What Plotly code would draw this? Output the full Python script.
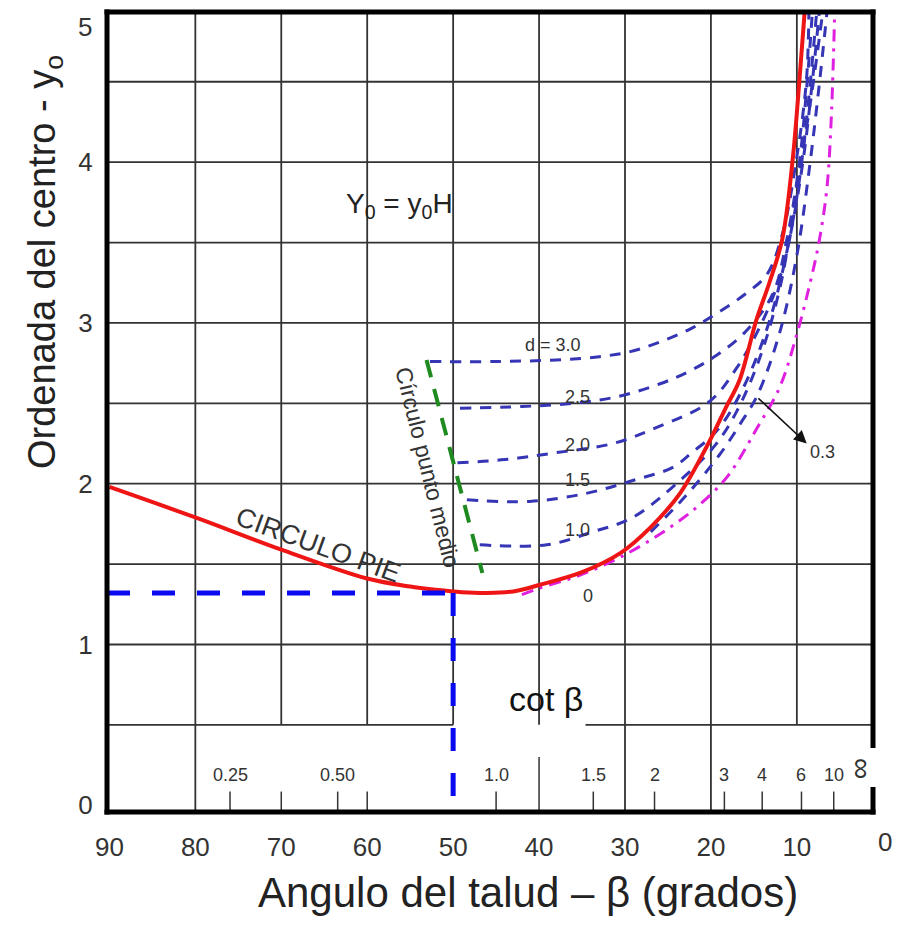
import math
import plotly.graph_objects as go

# ---------------- data ----------------
# Toe circle ("CIRCULO PIE")
beta_pie = [90, 80, 70, 60, 55, 52, 49, 46, 43, 40, 35, 30.5, 27, 23.6, 20.5, 18.2, 16.7, 14.7, 13.2, 11.7, 10.5, 9.7, 9.1]
y_pie = [1.98, 1.79, 1.59, 1.41, 1.36, 1.34, 1.325, 1.32, 1.33, 1.37, 1.45, 1.57, 1.73, 1.94, 2.23, 2.48, 2.64, 3.02, 3.25, 3.52, 4.01, 4.51, 4.93]

# d = 0 (dash-dot magenta)
beta_d0 = [42, 40, 35.3, 30.3, 25, 21.3, 18, 14.7, 12.0, 10.0, 8.5, 7.4, 6.5, 6.0, 5.6]
y_d0 = [1.31, 1.35, 1.43, 1.55, 1.72, 1.87, 2.05, 2.34, 2.60, 2.93, 3.24, 3.51, 3.84, 4.27, 4.93]

# d curves (blue dashed)
beta_d03 = [27, 23, 19, 16.5, 14.6, 12.0, 10.0, 8.5, 7.4, 6.5]
y_d03 = [1.70, 1.92, 2.18, 2.38, 2.55, 2.94, 3.42, 3.98, 4.48, 4.93]

beta_d10 = [46.9, 39.1, 33.8, 29.1, 23.6, 19.5, 17.0, 14.2, 11.8, 10.0, 8.4, 7.0]
y_d10 = [1.62, 1.62, 1.70, 1.79, 2.02, 2.24, 2.45, 2.80, 3.26, 3.85, 4.38, 4.93]

beta_d15 = [48.4, 41.1, 34.5, 29.1, 24.5, 22.3, 19.3, 16.3, 13.2, 10.9, 9.3, 8.2, 7.4]
y_d15 = [1.90, 1.89, 1.94, 2.02, 2.10, 2.19, 2.33, 2.59, 3.01, 3.51, 4.0, 4.5, 4.93]

beta_d20 = [49.5, 44, 38.4, 31.4, 26.3, 20.2, 17.0, 14.0, 11.7, 10.1, 8.9, 7.7]
y_d20 = [2.13, 2.15, 2.19, 2.25, 2.35, 2.51, 2.72, 3.01, 3.33, 3.75, 4.25, 4.93]

beta_d25 = [49.2, 42, 36, 31, 26, 22.5, 19.3, 15.9, 12.8, 11.2, 9.7, 8.8, 8.2]
y_d25 = [2.47, 2.48, 2.50, 2.54, 2.62, 2.70, 2.80, 2.95, 3.18, 3.51, 4.0, 4.5, 4.93]

beta_d30 = [52.7, 45, 38, 33, 29.5, 26, 22.5, 19.3, 16, 13.5, 11.7, 10.1, 8.9, 8.6]
y_d30 = [2.76, 2.76, 2.77, 2.79, 2.82, 2.88, 2.96, 3.06, 3.18, 3.30, 3.55, 4.0, 4.5, 4.93]

# mid-point circle (green dashed)
beta_mid = [53.1, 46.6]
y_mid = [2.77, 1.445]

# worked example (blue dashed)
beta_ex = 50
y_ex = 1.32

# axis ticks
x_ticks = [90, 80, 70, 60, 50, 40, 30, 20, 10]
y_ticks = [0, 1, 2, 3, 4]

# cot(beta) scale
cot_vals = [0.25, 0.5, 1.0, 1.5, 2, 3, 4, 6, 10]
cot_text = ["0.25", "0.50", "1.0", "1.5", "2", "3", "4", "6", "10"]

# d labels
d_label_text = ["d = 3.0", "2.5", "2.0", "1.5", "1.0", "0"]
d_label_beta = [38.4, 35.5, 35.5, 35.5, 35.5, 34.3]
d_label_y = [2.86, 2.54, 2.24, 2.02, 1.71, 1.30]

X_RANGE = [90.28, 1.14]
Y_RANGE = [-0.042, 4.934]
COT_LINE_Y = 0.5

fig = go.Figure()

BLUE_D = "#3535b5"
dash_d = "11px,9px"

fig.add_trace(go.Scatter(x=beta_d0, y=y_d0, mode="lines", line=dict(color="#e020e0", width=3, dash="12px,7px,3px,7px", shape="spline"), hoverinfo="skip"))
for bx, by in [(beta_d03, y_d03), (beta_d10, y_d10), (beta_d15, y_d15), (beta_d20, y_d20), (beta_d25, y_d25), (beta_d30, y_d30)]:
    fig.add_trace(go.Scatter(x=bx, y=by, mode="lines", line=dict(color=BLUE_D, width=3, dash=dash_d, shape="spline"), hoverinfo="skip"))

fig.add_trace(go.Scatter(x=beta_pie, y=y_pie, mode="lines", line=dict(color="#ee1515", width=4, shape="spline"), hoverinfo="skip"))
fig.add_trace(go.Scatter(x=beta_mid, y=y_mid, mode="lines", line=dict(color="#1f8a1f", width=4, dash="18px,12px"), hoverinfo="skip"))

# worked example lines
fig.add_trace(go.Scatter(x=[X_RANGE[0], beta_ex], y=[y_ex, y_ex], mode="lines", line=dict(color="#0a0af0", width=5, dash="23px,22px"), hoverinfo="skip"))
fig.add_trace(go.Scatter(x=[beta_ex, beta_ex], y=[y_ex, Y_RANGE[0]], mode="lines", line=dict(color="#0a0af0", width=5, dash="23px,22px"), hoverinfo="skip"))

shapes = []
GRID = dict(color="#333333", width=1.8)
# horizontal grid
for yv in [1.0, 1.5, 2.0, 2.5, 3.0, 3.5, 4.0, 4.5]:
    shapes.append(dict(type="line", xref="x", yref="y", x0=X_RANGE[0], x1=X_RANGE[1], y0=yv, y1=yv, line=GRID, layer="below"))
# cot line, broken around the "cot β" text
shapes.append(dict(type="line", xref="x", yref="y", x0=X_RANGE[0], x1=50, y0=COT_LINE_Y, y1=COT_LINE_Y, line=GRID, layer="below"))
shapes.append(dict(type="line", xref="x", yref="y", x0=34.6, x1=X_RANGE[1], y0=COT_LINE_Y, y1=COT_LINE_Y, line=GRID, layer="below"))
# vertical grid
for xv in [80, 30, 20]:
    shapes.append(dict(type="line", xref="x", yref="y", x0=xv, x1=xv, y0=Y_RANGE[0], y1=Y_RANGE[1], line=GRID, layer="below"))
for xv in [70, 60, 50, 40, 10]:
    shapes.append(dict(type="line", xref="x", yref="y", x0=xv, x1=xv, y0=COT_LINE_Y, y1=Y_RANGE[1], line=GRID, layer="below"))
# cot scale ticks
for c in cot_vals:
    b = math.degrees(math.atan(1.0 / c))
    shapes.append(dict(type="line", xref="x", yref="y", x0=b, x1=b, y0=Y_RANGE[0], y1=0.085, line=dict(color="#333333", width=1.5), layer="below"))
for b in [70, 60]:
    shapes.append(dict(type="line", xref="x", yref="y", x0=b, x1=b, y0=Y_RANGE[0], y1=0.085, line=dict(color="#333333", width=1.5), layer="below"))
shapes.append(dict(type="line", xref="x", yref="y", x0=40, x1=40, y0=Y_RANGE[0], y1=0.30, line=dict(color="#333333", width=1.5), layer="below"))

# thick frame
FR = dict(color="black", width=5)
ex = 2.5 / 766
ey = 2.5 / 800
shapes += [
    dict(type="line", xref="paper", yref="paper", x0=0, x1=0, y0=-ey, y1=1 + ey, line=FR),
    dict(type="line", xref="paper", yref="paper", x0=-ex, x1=1 + ex, y0=0, y1=0, line=FR),
    dict(type="line", xref="paper", yref="paper", x0=-ex, x1=1 + ex, y0=1, y1=1, line=FR),
    dict(type="line", xref="paper", yref="paper", x0=1, x1=1, y0=1 + ey, y1=(812 - 748) / 800, line=FR),
    dict(type="line", xref="paper", yref="paper", x0=1, x1=1, y0=(812 - 787) / 800, y1=-ey, line=FR),
]

TXT = "#333333"
FONT = "Liberation Sans, Arial, sans-serif"
NARROW = "Liberation Sans Narrow, Arial Narrow, Liberation Sans, sans-serif"


def A(**kw):
    kw.setdefault("showarrow", False)
    kw.setdefault("xanchor", "center")
    kw.setdefault("yanchor", "middle")
    return kw


ann = []
for t, bx, by in zip(d_label_text, d_label_beta, d_label_y):
    ann.append(A(x=bx, y=by, xref="x", yref="y", text=t, font=dict(size=18, color=TXT, family=FONT)))
for c, t in zip(cot_vals, cot_text):
    b = math.degrees(math.atan(1.0 / c))
    ann.append(A(x=b, y=0.19, xref="x", yref="y", text=t, font=dict(size=18, color=TXT, family=FONT)))
ann.append(A(x=(863 - 107) / 766, y=(812 - 768) / 800, xref="paper", yref="paper", text="∞", textangle=90, font=dict(size=30, color=TXT, family=FONT)))
ann.append(A(x=39.2, y=0.66, xref="x", yref="y", text="cot β", font=dict(size=34, color="#111111", family=FONT)))
ann.append(A(x=56.2, y=3.73, xref="x", yref="y", text="Y<sub>0</sub> = y<sub>0</sub>H", font=dict(size=28, color="#222222", family=FONT)))
ann.append(A(x=65.7, y=1.62, xref="x", yref="y", text="CIRCULO PIE", textangle=20, font=dict(size=27, color="#333333", family=FONT)))
ann.append(A(x=52.9, y=2.10, xref="x", yref="y", text="Círculo punto medio", textangle=76, font=dict(size=23, color="#333333", family=NARROW)))
# 0.3 label and arrow
ann.append(dict(x=8.85, y=2.25, xref="x", yref="y", ax=14.65, ay=2.54, axref="x", ayref="y", text="", showarrow=True, arrowhead=2, arrowsize=1.6, arrowwidth=1.6, arrowcolor="#111111"))
ann.append(A(x=7.0, y=2.20, xref="x", yref="y", text="0.3", font=dict(size=18, color=TXT, family=FONT)))
# extra tick labels beyond the frame
ann.append(A(x=(85 - 107) / 766, y=(812 - 27) / 800, xref="paper", yref="paper", text="5", font=dict(size=26, color=TXT, family=FONT)))
ann.append(A(x=(885 - 107) / 766, y=(812 - 842) / 800, xref="paper", yref="paper", text="0", font=dict(size=26, color=TXT, family=FONT)))
# axis titles
ann.append(A(x=(528 - 107) / 766, y=(812 - 892) / 800, xref="paper", yref="paper", text="Angulo del talud – β (grados)", font=dict(size=42, color="#222222", family=FONT)))
ann.append(A(x=(45 - 107) / 766, y=(812 - 262) / 800, xref="paper", yref="paper", text="Ordenada del centro - y<sub>o</sub>", textangle=-90, font=dict(size=38, color="#222222", family=NARROW)))

fig.update_layout(
    width=906, height=927,
    margin=dict(l=107, r=33, t=12, b=115),
    paper_bgcolor="white", plot_bgcolor="white",
    showlegend=False,
    shapes=shapes, annotations=ann,
    xaxis=dict(range=X_RANGE, tickvals=x_ticks, ticktext=[str(v) for v in x_ticks], showgrid=False, zeroline=False, showline=False,
               ticks="outside", ticklen=12, tickcolor="rgba(0,0,0,0)", tickfont=dict(size=26, color=TXT, family=FONT)),
    yaxis=dict(range=Y_RANGE, tickvals=y_ticks, ticktext=[str(v) for v in y_ticks], showgrid=False, zeroline=False, showline=False,
               ticks="outside", ticklen=8, tickcolor="rgba(0,0,0,0)", tickfont=dict(size=26, color=TXT, family=FONT)),
)

fig.write_html("out.html")
